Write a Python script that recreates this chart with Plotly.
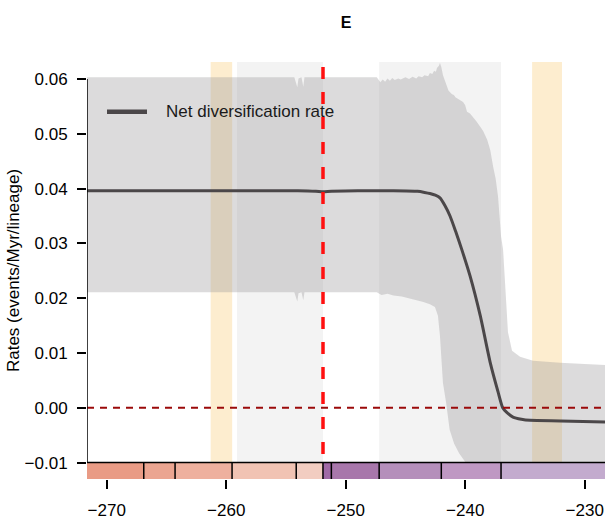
import plotly.graph_objects as go

# Time axis (Ma, negative = before present)
x_min, x_max = -271.65, -228.3
y_min, y_max = -0.0130, 0.0631

# Mean net diversification rate through time
mean_age = [-271.65, -262.0, -254.0, -252.5, -251.9, -251.2, -249.0, -246.0, -244.0, -243.4,
            -242.95, -242.5, -242.11, -241.7, -241.27, -240.8, -240.29, -239.6, -238.74, -237.9,
            -237.25, -236.86, -236.5, -236.0, -235.3, -234.57, -232.0, -228.3]
mean_rate = [0.0396, 0.0396, 0.0396, 0.0395, 0.0394, 0.0395, 0.0396, 0.0396, 0.0395, 0.0393,
             0.0391, 0.0388, 0.0383, 0.0369, 0.0350, 0.0322, 0.0289, 0.0241, 0.0168, 0.0082,
             0.0029, 0.0000, -0.0009, -0.0017, -0.0021, -0.0023, -0.0024, -0.0026]

# Upper bound of the 95% credible interval
upper_age = [-271.65, -254.3, -254.15, -254.05, -253.95, -253.7, -253.55, -253.45, -247.4, -247.1,
             -246.9, -246.7, -246.5, -246.3, -246.1, -245.9, -245.6, -245.4, -245.0, -244.7,
             -244.4, -244.1, -243.9, -243.6, -243.4, -243.1, -242.95, -242.75, -242.6, -242.45,
             -242.36, -242.2, -242.11, -242.0, -241.86, -241.7, -241.52, -241.4, -241.27, -241.1,
             -240.95, -240.8, -240.69, -240.4, -240.18, -240.0, -239.85, -239.6, -239.35, -239.1,
             -238.74, -238.5, -238.16, -237.9, -237.66, -237.45, -237.25, -237.0, -236.83, -236.67,
             -236.5, -236.42, -236.08, -235.41, -234.32, -233.0, -232.06, -230.0, -228.3]
upper_rate = [0.0603, 0.0603, 0.0592, 0.0585, 0.0601, 0.0603, 0.0586, 0.0603, 0.0603, 0.0594,
              0.0599, 0.0595, 0.0601, 0.0597, 0.0602, 0.0598, 0.0601, 0.0599, 0.0603, 0.0600,
              0.0604, 0.0601, 0.0605, 0.0603, 0.0607, 0.0605, 0.0611, 0.0609, 0.0615, 0.0613,
              0.0620, 0.0624, 0.0629, 0.0622, 0.0607, 0.0596, 0.0584, 0.0579, 0.0576, 0.0572,
              0.0571, 0.0566, 0.0565, 0.0561, 0.0558, 0.0552, 0.0540, 0.0537, 0.0531, 0.0524,
              0.0513, 0.0505, 0.0489, 0.0470, 0.0440, 0.0418, 0.0385, 0.0313, 0.0289, 0.0230,
              0.0160, 0.0138, 0.0104, 0.0093, 0.0086, 0.0083, 0.0082, 0.0080, 0.0078]

# Lower bound of the 95% credible interval
lower_age = [-271.65, -254.3, -254.15, -254.05, -253.95, -253.7, -253.55, -253.45, -247.4, -247.0,
             -246.5, -246.0, -245.3, -244.4, -243.5, -242.95, -242.53, -242.28, -242.11, -241.94,
             -241.86, -241.6, -241.46, -241.3, -240.93, -240.51, -240.02, -239.7, -239.3, -238.5,
             -228.3]
lower_rate = [0.0211, 0.0211, 0.0200, 0.0194, 0.0209, 0.0211, 0.0196, 0.0211, 0.0211, 0.0206,
              0.0208, 0.0205, 0.0203, 0.0198, 0.0193, 0.0189, 0.0184, 0.0168, 0.0131, 0.0076,
              0.0045, 0.0010, -0.0010, -0.0040, -0.0065, -0.0083, -0.0098, -0.0115, -0.0140, -0.0170,
              -0.0170]

# Geological stages (boundaries in Ma) and their colours
stage_edges = [-271.65, -266.9, -264.28, -259.51, -254.14, -251.902, -251.2, -247.2, -242.0, -237.0, -228.3]
stage_colors = ["#E99B85", "#EBA591", "#EEB09E", "#F1C3B3", "#F2CDC1",
                "#A06AA6", "#A877AB", "#B58FBB", "#BF98C3", "#C3ABCE"]

# Highlighted intervals
pulse_start = [-261.3, -234.4]
pulse_end = [-259.5, -231.9]
shade_start = [-259.1, -247.2]
shade_end = [-251.9, -237.0]
mass_extinction = -251.9

x_ticks = [-270, -260, -250, -240, -230]
y_ticks = [-0.01, 0.00, 0.01, 0.02, 0.03, 0.04, 0.05, 0.06]

FONT = "Liberation Sans, Arial, Helvetica, sans-serif"
LINE_COLOR = "#4B4749"

fig = go.Figure()

# Credible interval as one closed polygon
fig.add_trace(go.Scatter(
    x=upper_age + lower_age[::-1],
    y=upper_rate + lower_rate[::-1],
    fill="toself", fillcolor="rgba(150,145,150,0.33)",
    line=dict(width=0), mode="lines", hoverinfo="skip", showlegend=False,
))

fig.add_trace(go.Scatter(
    x=mean_age, y=mean_rate, mode="lines",
    line=dict(color=LINE_COLOR, width=3, shape="spline", smoothing=0.6),
    name="Net diversification rate", showlegend=False,
))

shapes = []
# Background interval shading
for s, e in zip(shade_start, shade_end):
    shapes.append(dict(type="rect", xref="x", yref="paper", x0=s, x1=e, y0=0, y1=1,
                       fillcolor="#F3F3F3", line=dict(width=0), layer="below"))
for s, e in zip(pulse_start, pulse_end):
    shapes.append(dict(type="rect", xref="x", yref="paper", x0=s, x1=e, y0=0, y1=1,
                       fillcolor="#FDEDCF", line=dict(width=0), layer="below"))

# Zero reference line
shapes.append(dict(type="line", xref="x", yref="y", x0=x_min, x1=-228.6, y0=0, y1=0,
                   line=dict(color="#9B0A0A", width=2, dash="7px,6px"), layer="above"))
# Permian-Triassic boundary
shapes.append(dict(type="line", xref="x", yref="paper", x0=mass_extinction, x1=mass_extinction,
                   y0=0, y1=1, line=dict(color="#FF1010", width=3.5, dash="12px,13px"),
                   layer="above"))

# Stage colour strip under the plot
for i, col in enumerate(stage_colors):
    shapes.append(dict(type="rect", xref="x", yref="y", x0=stage_edges[i], x1=stage_edges[i + 1],
                       y0=y_min, y1=-0.01, fillcolor=col, line=dict(width=0), layer="above"))
for edge in stage_edges[1:-1]:
    shapes.append(dict(type="line", xref="x", yref="y", x0=edge, x1=edge, y0=y_min, y1=-0.01,
                       line=dict(color="black", width=1.5), layer="above"))
shapes.append(dict(type="line", xref="x", yref="y", x0=stage_edges[0], x1=stage_edges[-1],
                   y0=-0.01, y1=-0.01, line=dict(color="black", width=1.5), layer="above"))

# y-axis spine limited to the tick range
shapes.append(dict(type="line", xref="x", yref="y", x0=x_min, x1=x_min, y0=-0.01, y1=0.06,
                   line=dict(color="black", width=1.5), layer="above"))

# Legend entry
shapes.append(dict(type="line", xref="paper", yref="paper",
                   x0=(107 - 87) / 518, x1=(147 - 87) / 518,
                   y0=1 - (112 - 62) / 419, y1=1 - (112 - 62) / 419,
                   line=dict(color=LINE_COLOR, width=4.5), layer="above"))

fig.update_layout(
    width=608, height=523,
    margin=dict(l=87, r=3, t=62, b=42),
    paper_bgcolor="white", plot_bgcolor="white",
    font=dict(family=FONT, size=17, color="black"),
    shapes=shapes,
    title=dict(text="<b>E</b>", x=0.5, xref="paper", xanchor="center",
               y=1 - 22 / 523, yref="container", yanchor="middle",
               font=dict(family=FONT, size=16, color="black")),
    annotations=[dict(text="Net diversification rate", xref="paper", yref="paper",
                      x=(164 - 87) / 518, y=1 - (112 - 62) / 419, xanchor="left",
                      yanchor="middle", showarrow=False,
                      font=dict(family=FONT, size=17, color="#1a1a1a"))],
    showlegend=False,
)

fig.update_xaxes(
    range=[x_min, x_max], showgrid=False, zeroline=False, showline=False,
    tickmode="array", tickvals=x_ticks, ticks="outside", ticklen=9, tickwidth=1.5,
    tickcolor="black", ticklabelstandoff=7,
)
fig.update_yaxes(
    range=[y_min, y_max], showgrid=False, zeroline=False, showline=False,
    tickmode="array", tickvals=y_ticks, tickformat=".2f", ticks="outside", ticklen=9,
    tickwidth=1.5, tickcolor="black", ticklabelstandoff=6,
    title=dict(text="Rates (events/Myr/lineage)", standoff=0,
               font=dict(family=FONT, size=17)),
)

fig.write_html("out.html")
